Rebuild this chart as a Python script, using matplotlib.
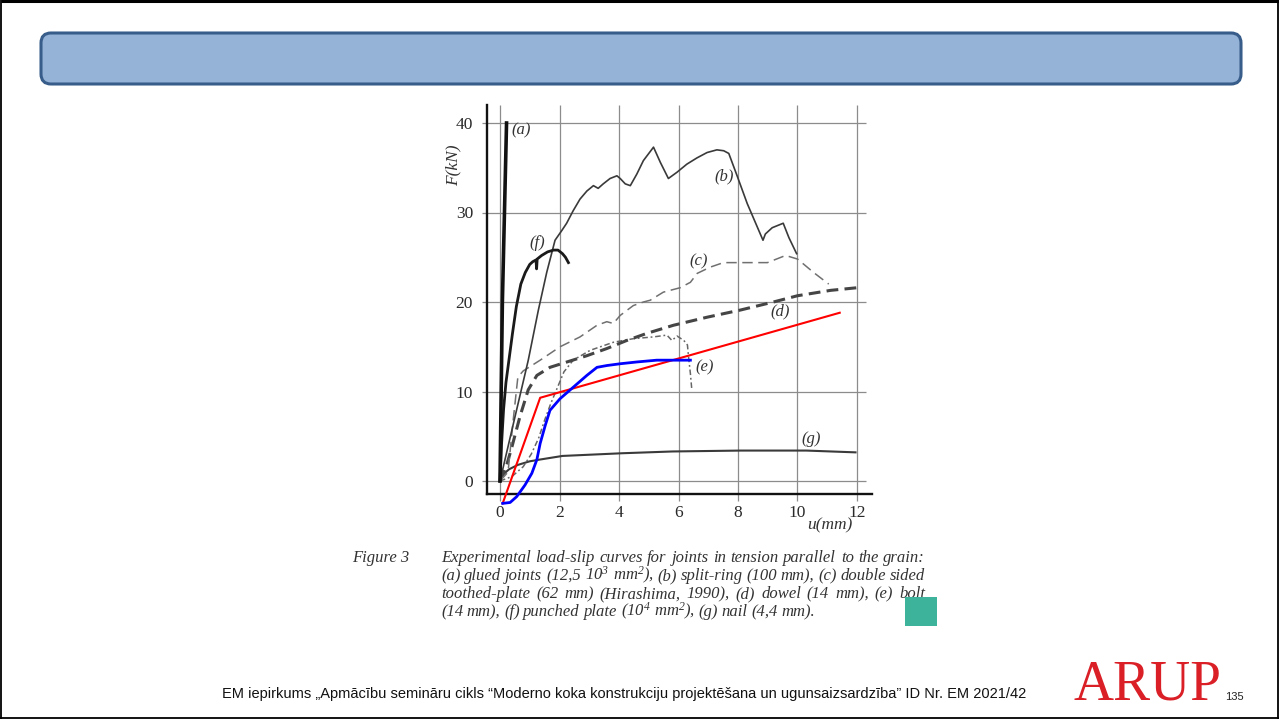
import matplotlib
matplotlib.use("Agg")
import matplotlib.pyplot as plt
from matplotlib.patches import FancyBboxPatch, Rectangle

# ---- load-slip data: u (mm), F (kN) ----
a_u = [0.0, 0.08, 0.22]
a_F = [0.0, 20.0, 40.0]

b_u = [0.0, 0.4, 0.95, 1.29, 1.57, 1.85, 2.08, 2.24, 2.46, 2.69, 2.92, 3.14, 3.30, 3.47,
       3.70, 3.93, 4.04, 4.21, 4.38, 4.60, 4.82, 5.16, 5.39, 5.66, 5.95, 6.28, 6.62, 6.96,
       7.29, 7.52, 7.69, 7.97, 8.31, 8.84, 8.92, 9.15, 9.52, 9.71, 9.97]
b_F = [0.0, 5.7, 13.5, 19.1, 23.3, 26.9, 28.0, 28.8, 30.2, 31.5, 32.4, 33.0, 32.7, 33.2,
       33.8, 34.1, 33.8, 33.2, 33.0, 34.3, 35.8, 37.3, 35.6, 33.8, 34.5, 35.4, 36.1, 36.7,
       37.0, 36.9, 36.6, 34.1, 31.0, 26.9, 27.6, 28.3, 28.8, 27.2, 25.4]

c_u = [0.0, 0.27, 0.45, 0.6, 0.78, 1.35, 2.02, 2.69, 3.26, 3.59, 3.81, 4.04, 4.48, 4.82,
       5.05, 5.49, 6.06, 6.40, 6.63, 7.07, 7.51, 8.32, 8.99, 9.60, 10.0, 10.54, 11.05]
c_F = [0.0, 1.0, 7.0, 11.6, 12.3, 13.5, 15.0, 16.1, 17.4, 17.8, 17.6, 18.5, 19.6, 20.0,
       20.2, 21.1, 21.6, 22.2, 23.2, 23.9, 24.4, 24.4, 24.4, 25.2, 24.8, 23.3, 22.0]

d_u = [0.0, 0.2, 0.4, 0.67, 0.95, 1.24, 1.68, 2.25, 2.92, 3.59, 4.26, 4.94, 5.83, 6.96,
       8.08, 9.19, 10.0, 11.11, 12.02]
d_F = [0.0, 1.5, 3.8, 7.2, 10.2, 11.8, 12.7, 13.3, 14.0, 14.8, 15.7, 16.5, 17.4, 18.3,
       19.1, 20.0, 20.7, 21.3, 21.6]

e_u = [0.0, 0.4, 0.78, 1.05, 1.3, 1.5, 1.7, 1.85, 2.15, 2.46, 3.03, 3.81, 4.48, 5.16,
       5.61, 5.78, 5.95, 6.18, 6.30, 6.34, 6.40, 6.45]
e_F = [0.0, 0.5, 1.6, 3.0, 4.8, 6.8, 8.6, 9.8, 12.2, 13.5, 14.6, 15.5, 15.9, 16.1,
       16.3, 15.7, 16.2, 15.7, 15.2, 13.8, 12.0, 10.1]

f_u = [0.0, 0.05, 0.12, 0.2, 0.3, 0.42, 0.55, 0.7, 0.85, 1.0, 1.1, 1.21, 1.23, 1.25,
       1.4, 1.6, 1.8, 1.95, 2.1, 2.2, 2.3]
f_F = [0.0, 4.0, 8.0, 11.0, 13.5, 16.5, 19.5, 22.0, 23.3, 24.2, 24.5, 24.7, 23.7, 24.8,
       25.2, 25.6, 25.8, 25.8, 25.4, 25.0, 24.4]

g_u = [0.0, 0.1, 0.3, 0.6, 1.0, 1.35, 2.1, 4.1, 5.8, 8.1, 10.3, 11.95]
g_F = [0.0, 0.7, 1.3, 1.8, 2.2, 2.4, 2.8, 3.1, 3.3, 3.4, 3.4, 3.2]

red_u = [0.09, 1.35, 11.42]
red_F = [-2.5, 9.3, 18.8]

blue_u = [0.09, 0.34, 0.56, 0.84, 1.07, 1.24, 1.35, 1.52, 1.68, 2.02, 2.47, 2.92, 3.26,
          3.59, 4.04, 4.6, 5.27, 5.83, 6.4]
blue_F = [-2.5, -2.4, -1.75, -0.45, 0.86, 2.4, 4.2, 6.2, 7.9, 9.2, 10.5, 11.8, 12.7,
          12.9, 13.1, 13.3, 13.5, 13.5, 13.5]

x_ticks = [0, 2, 4, 6, 8, 10, 12]
y_ticks = [0, 10, 20, 30, 40]

curve_labels = ["(a)", "(b)", "(c)", "(d)", "(e)", "(f)", "(g)"]
label_u = [0.71, 7.53, 6.66, 9.41, 6.89, 1.24, 10.45]
label_F = [39.2, 34.0, 24.5, 19.0, 12.7, 26.6, 4.7]

caption_head = "Figure 3"
caption_lines = [
    "Experimental load-slip curves for joints in tension parallel to the grain:",
    "(a) glued joints (12,5 10$^3$ mm$^2$), (b) split-ring (100 mm), (c) double sided",
    "toothed-plate (62 mm) (Hirashima, 1990), (d) dowel (14 mm), (e) bolt",
    "(14 mm), (f) punched plate (10$^4$ mm$^2$), (g) nail (4,4 mm).",
]
footer = ("EM iepirkums \u201eApm\u0101c\u012bbu semin\u0101ru cikls \u201cModerno koka "
          "konstrukciju projekt\u0113\u0161ana un ugunsaizsardz\u012bba\u201d ID Nr. EM 2021/42")
page_no = "135"
logo = "ARUP"

# ---- styling ----
plt.rcParams["lines.scale_dashes"] = False
plt.rcParams["mathtext.fontset"] = "custom"
plt.rcParams["mathtext.rm"] = "Liberation Serif:italic"
plt.rcParams["mathtext.it"] = "Liberation Serif:italic"
SERIF = "Liberation Serif"
SANS = ["Liberation Sans Narrow", "Liberation Sans"]

W, H = 1279, 719
fig = plt.figure(figsize=(W / 100, H / 100), dpi=100)
fig.patch.set_facecolor("white")

# full-page layer in pixel units
bg = fig.add_axes([0, 0, 1, 1], zorder=0)
bg.set_xlim(0, W)
bg.set_ylim(H, 0)
bg.axis("off")

# page frame
bg.plot([0.5, W - 0.5], [1.2, 1.2], color="black", lw=2.2, solid_capstyle="butt")
bg.plot([0.8, 0.8], [0, H], color="black", lw=1.3)
bg.plot([W - 1.2, W - 1.2], [0, H], color="black", lw=1.3)
bg.plot([0, W], [H - 1.2, H - 1.2], color="black", lw=1.3)

# title bar
bg.add_patch(FancyBboxPatch((41, 33), 1200, 51,
                            boxstyle="round,pad=0,rounding_size=10",
                            fc="#95B3D7", ec="#385D8A", lw=2.2))

# ---- chart ----
L, R, T, B = 487, 872, 105, 494
ax = fig.add_axes([L / W, 1 - B / H, (R - L) / W, (B - T) / H], zorder=1)
ax.patch.set_alpha(0)
px_per_mm, px_per_kN = 29.75, 8.95
ax.set_xlim((L - 500) / px_per_mm, (R - 500) / px_per_mm)
ax.set_ylim((481 - B) / px_per_kN, (481 - T) / px_per_kN)
for s in ("top", "right"):
    ax.spines[s].set_visible(False)
for s in ("left", "bottom"):
    ax.spines[s].set_linewidth(1.7)
    ax.spines[s].set_color("#111111")

ax.set_xticks(x_ticks)
ax.set_yticks(y_ticks)
ax.set_xticklabels([str(v) for v in x_ticks], fontfamily=SERIF, fontsize=12.5, color="#2a2a2a")
ax.set_yticklabels([str(v) for v in y_ticks], fontfamily=SERIF, fontsize=12.5, color="#2a2a2a")
ax.tick_params(axis="x", length=0, pad=8)
ax.tick_params(axis="y", length=0, pad=10)

ymax = ax.get_ylim()[1]
ax.hlines(y_ticks, -0.6, 12.3, color="#8c8c8c", lw=0.9, clip_on=False, zorder=1)
ax.vlines(x_ticks, -2.2, ymax, color="#8c8c8c", lw=0.9, clip_on=False, zorder=1)

ax.plot(g_u, g_F, color="#3a3a3a", lw=1.5, zorder=3)
ax.plot(e_u, e_F, color="#666666", lw=1.1, dashes=(4, 2, 1.3, 2), zorder=3)
ax.plot(d_u, d_F, color="#454545", lw=2.2, dashes=(8.5, 4.5), zorder=3)
ax.plot(c_u, c_F, color="#707070", lw=1.1, dashes=(7.5, 4), zorder=3)
ax.plot(b_u, b_F, color="#3a3a3a", lw=1.2, zorder=3)
ax.plot(f_u, f_F, color="#1a1a1a", lw=2.0, zorder=3)
ax.plot(a_u, a_F, color="#111111", lw=2.6, zorder=3)
ax.plot(red_u, red_F, color="#ff0000", lw=1.5, zorder=4, clip_on=False)
ax.plot(blue_u, blue_F, color="#0000ff", lw=2.0, zorder=5, clip_on=False)

for lab, u, F in zip(curve_labels, label_u, label_F):
    ax.text(u, F, lab, fontfamily=SERIF, style="italic", fontsize=12,
            ha="center", va="center", color="#333333")

bg.text(453, 165, "F(kN)", fontfamily=SERIF, style="italic", fontsize=12.5,
        rotation=90, ha="center", va="center", color="#333333")
bg.text(830, 525, "u(mm)", fontfamily=SERIF, style="italic", fontsize=12.5,
        ha="center", va="center", color="#333333")

# ---- caption, justified between two margins ----
renderer = fig.canvas.get_renderer()
cap_kw = dict(fontfamily=SERIF, style="italic", fontsize=12, color="#333333", va="baseline")
bg.text(352, 562, caption_head, ha="left", **cap_kw)
x0, x1, y0, dy = 441, 925, 562, 18
for i, line in enumerate(caption_lines):
    y = y0 + i * dy
    words = line.split(" ")
    texts = [bg.text(0, y, w, ha="left", **cap_kw) for w in words]
    widths = [t.get_window_extent(renderer).width for t in texts]
    if i < len(caption_lines) - 1:
        gap = (x1 - x0 - sum(widths)) / (len(words) - 1)
    else:
        gap = 3.6
    x = x0
    for t, w in zip(texts, widths):
        t.set_x(x)
        x += w + gap

bg.add_patch(Rectangle((905, 597), 32, 29, fc="#3DB39B", ec="none", zorder=5))

# ---- footer ----
bg.text(222, 698, footer, fontfamily=SANS, fontsize=10.55, ha="left", va="baseline",
        color="#111111")
bg.text(1148, 700, logo, fontfamily=SERIF, fontsize=40, color="#DA1F26",
        ha="center", va="baseline")
bg.text(1225, 700, page_no, fontfamily=SANS, fontsize=8, ha="left", va="baseline",
        color="#222222")

fig.savefig("out.png", dpi=100, facecolor="white")
